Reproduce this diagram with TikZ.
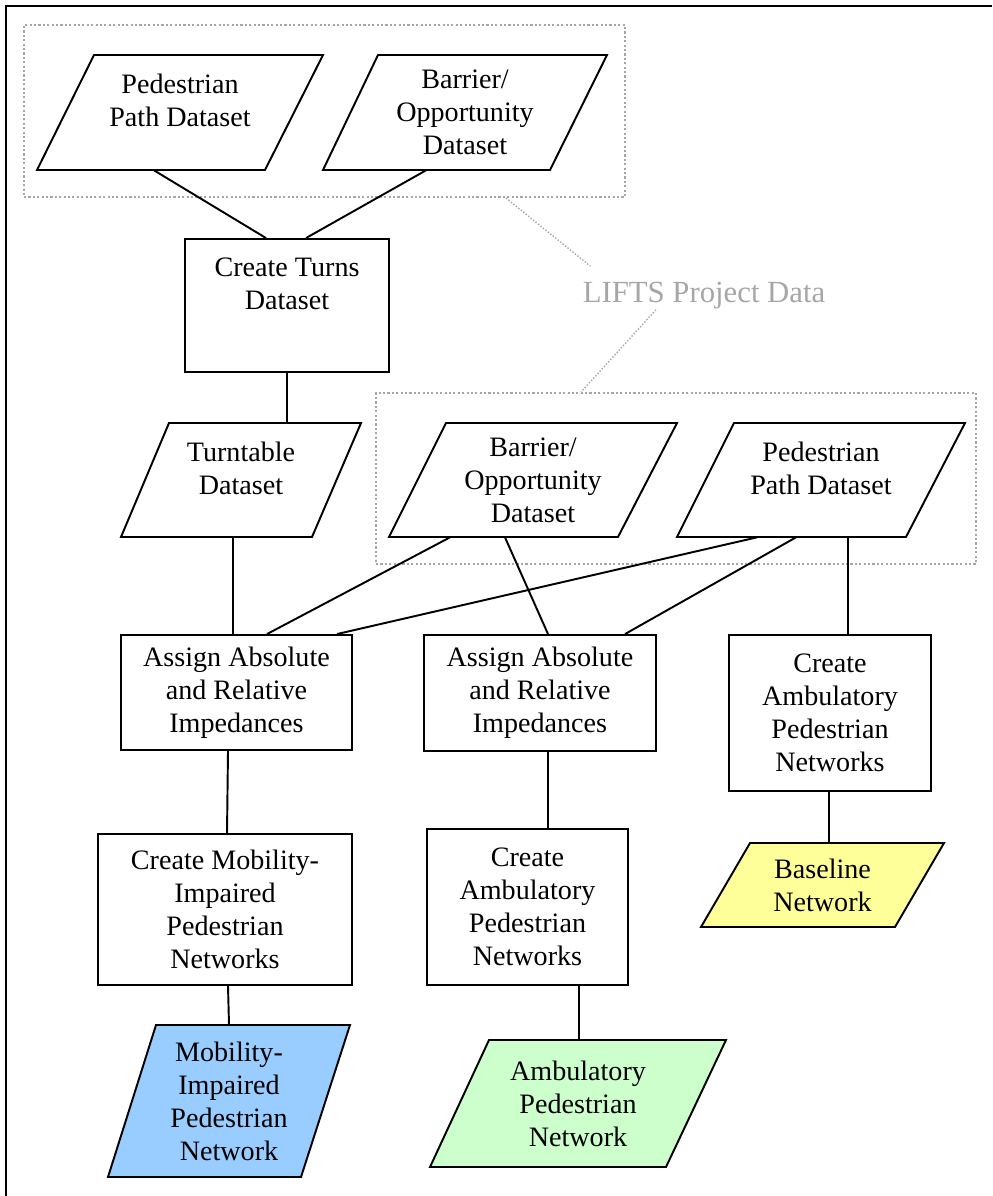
\documentclass[tikz,border=0pt]{standalone}
\usepackage{fontspec}
\setmainfont{Liberation Serif}
\usetikzlibrary{calc}

\definecolor{mobblue}{RGB}{153,204,255}
\definecolor{ambgreen}{RGB}{204,255,204}
\definecolor{baseyellow}{RGB}{255,255,153}
\definecolor{liftsgray}{RGB}{166,166,166}

\begin{document}
\begin{tikzpicture}[x=0.02cm, y=-0.02cm,
    font=\fontsize{16}{18.8}\selectfont,
    proc/.style={draw, line width=1.1pt, align=center, inner sep=1pt},
    data/.style={align=center, inner sep=1pt},
    slab/.style={draw, line width=1.1pt},
    link/.style={line width=1.1pt},
    group/.style={draw=liftsgray, line width=1.2pt, dash pattern=on 1.2pt off 1.3pt},
    callout/.style={draw=liftsgray, line width=0.8pt, dash pattern=on 0.8pt off 1pt}]
  \useasboundingbox (0,0) rectangle (992,1196);

  % Frame
  \draw[line width=1.2pt] (6,1196) -- (6,6) -- (992,6);

  % Define the LIFTS groups
  \node[group, minimum width=12.02cm, minimum height=3.44cm] (liftsA) at (324.5,111) {};
  \node[group, minimum width=12cm, minimum height=3.42cm] (liftsB) at (676,478.5) {};

  % Draw the data shapes
  \draw[slab] (94,55) -- (323,55) -- (265,170) -- (37,170) -- cycle;
  \draw[slab] (378,55) -- (607,55) -- (550,170) -- (323,170) -- cycle;
  \draw[slab] (169,423) -- (361,423) -- (312,537) -- (121,537) -- cycle;
  \draw[slab] (446,423) -- (677,423) -- (618,537) -- (389,537) -- cycle;
  \draw[slab] (734,423) -- (965,423) -- (906,537) -- (677,537) -- cycle;
  \draw[slab, fill=baseyellow] (750,843) -- (944,843) -- (895,927) -- (701,927) -- cycle;
  \draw[slab, fill=mobblue] (156,1025) -- (350,1025) -- (301,1177) -- (108,1177) -- cycle;
  \draw[slab, fill=ambgreen] (489,1040) -- (726,1040) -- (666,1167) -- (430,1167) -- cycle;

  % Data nodes
  \node[data, minimum width=4.56cm, minimum height=2.3cm] (pedA) at (180,112.5) {Pedestrian\\Path Dataset\\[-11pt]\strut};
  \node[data, minimum width=4.56cm, minimum height=2.3cm] (barA) at (465,112.5) {Barrier/\\Opportunity\\Dataset};
  \node[data, minimum width=3.84cm, minimum height=2.28cm] (turntab) at (241,480) {Turntable\\Dataset\\[-11pt]\strut};
  \node[data, minimum width=4.6cm, minimum height=2.28cm] (barB) at (533,480) {Barrier/\\Opportunity\\Dataset};
  \node[data, minimum width=4.6cm, minimum height=2.28cm] (pedB) at (821,480) {Pedestrian\\Path Dataset\\[-11pt]\strut};
  \node[data, minimum width=3.88cm, minimum height=1.68cm] (basenet) at (822.5,885) {Baseline\\Network};
  \node[data, minimum width=3.88cm, minimum height=3.04cm] (mobnet) at (229,1101) {Mobility-\\Impaired\\Pedestrian\\Network};
  \node[data, minimum width=4.74cm, minimum height=2.54cm] (ambnet) at (578,1103.5) {Ambulatory\\Pedestrian\\Network};

  % Process nodes
  \node[proc, minimum width=4.08cm, minimum height=2.66cm] (turns) at (287,305.5) {Create Turns\\Dataset\\\strut};
  \node[proc, minimum width=4.62cm, minimum height=2.3cm] (assignA) at (236.5,692.5) {Assign Absolute\\and Relative\\Impedances};
  \node[proc, minimum width=4.64cm, minimum height=2.32cm] (assignB) at (540,693) {Assign Absolute\\and Relative\\Impedances};
  \node[proc, minimum width=4.04cm, minimum height=3.12cm] (ambR) at (830,713) {Create\\Ambulatory\\Pedestrian\\Networks};
  \node[proc, minimum width=5.08cm, minimum height=3.02cm] (mobil) at (225,909.5) {Create Mobility-\\Impaired\\Pedestrian\\Networks};
  \node[proc, minimum width=4.02cm, minimum height=3.12cm] (ambM) at (527.5,907) {Create\\Ambulatory\\Pedestrian\\Networks};

  % Connect the shapes
  \draw[link] ($(pedA.south)+(-26,0)$) -- ($(turns.north)+(-21,0)$);
  \draw[link] ($(barA.south)+(-39,0)$) -- ($(turns.north)+(19,0)$);
  \draw[link] (turns.south) -- (turns.south |- turntab.north);
  \draw[link] ($(turntab.south)+(-8,0)$) -- ($(assignA.north)+(-3.5,0)$);
  \draw[link] ($(barB.south)+(-83,0)$) -- ($(assignA.north)+(30.5,0)$);
  \draw[link] ($(pedB.south)+(-64,0)$) -- ($(assignA.north)+(100.5,0)$);
  \draw[link] ($(barB.south)+(-28,0)$) -- ($(assignB.north)+(8,0)$);
  \draw[link] ($(pedB.south)+(-25,0)$) -- ($(assignB.north)+(85,0)$);
  \draw[link] ($(pedB.south)+(27,0)$) -- ($(ambR.north)+(18,0)$);
  \draw[link] ($(assignA.south)+(-8.5,0)$) -- ($(mobil.north)+(2,0)$);
  \draw[link] ($(assignB.south)+(8,0)$) -- ($(ambM.north)+(20.5,0)$);
  \draw[link] ($(ambR.south)+(-1,0)$) -- ($(basenet.north)+(6.5,0)$);
  \draw[link] ($(mobil.south)+(3,0)$) -- (mobnet.north);
  \draw[link] ($(ambM.south)+(51.5,0)$) -- ($(ambnet.north)+(1,0)$);

  % Label the LIFTS groups
  \node[text=liftsgray, inner sep=0pt, font=\fontsize{17.5}{20}\selectfont] (lifts) at (704,296) {LIFTS Project Data};
  \draw[callout] ($(liftsA.south)+(181.5,0)$) -- ($(lifts.north west)+(8,-16)$);
  \draw[callout] ($(lifts.south)+(-48,0)$) -- ($(liftsB.north west)+(206,0)$);
\end{tikzpicture}
\end{document}
